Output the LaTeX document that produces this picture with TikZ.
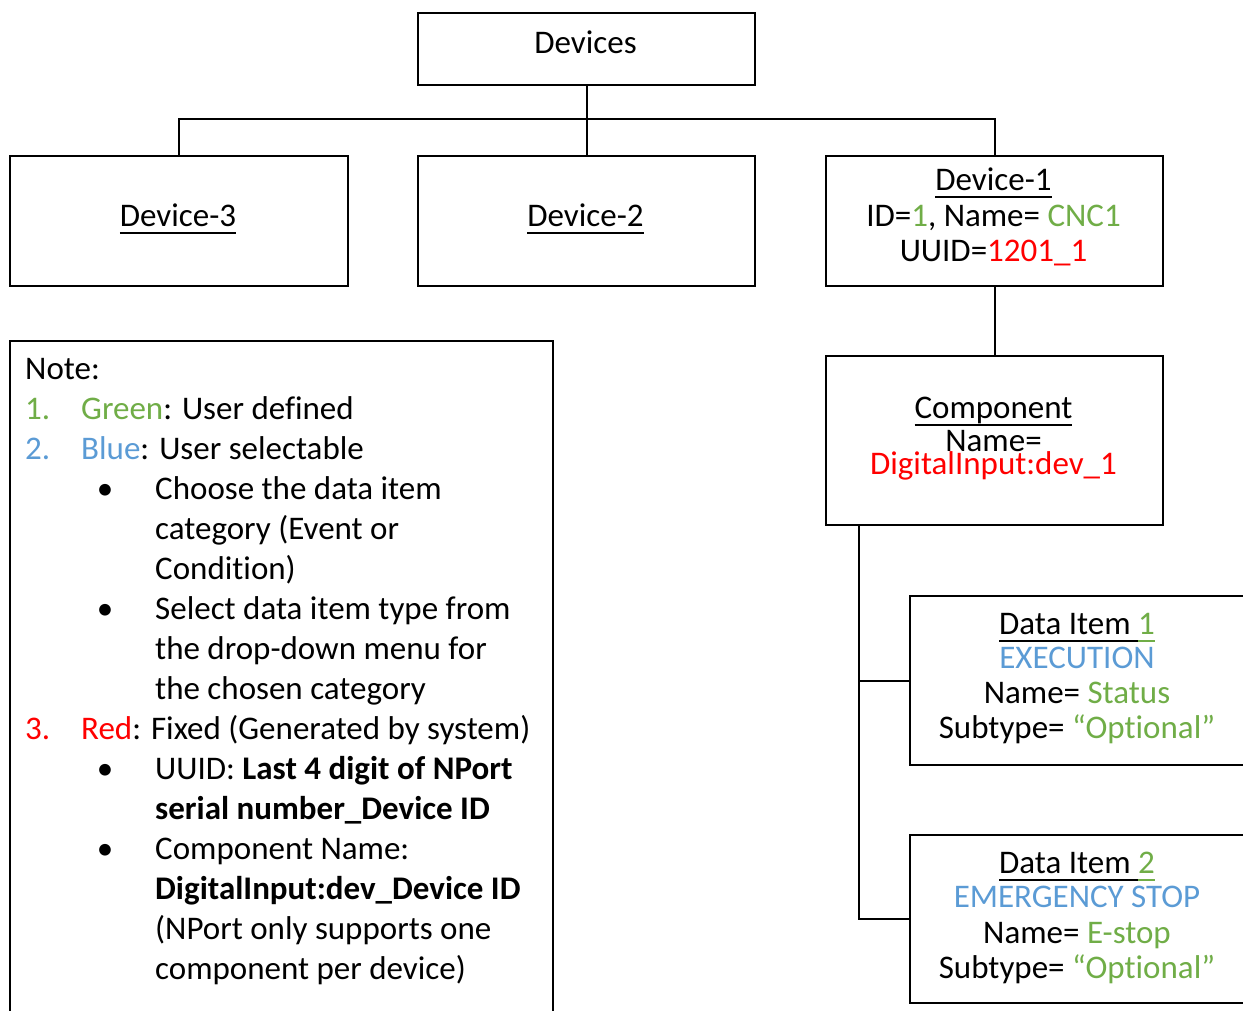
\documentclass[tikz,border=0pt]{standalone}
\usepackage{fontspec}
\setmainfont{Carlito}[RawFeature=-liga]
\definecolor{ugreen}{HTML}{70AD47}
\definecolor{ublue}{HTML}{5B9BD5}
\definecolor{ured}{HTML}{FF0000}
\newcommand\ulx[1]{\setbox0\hbox{#1}\rlap{\rule[-8pt]{\wd0}{1.6pt}}\box0}
\begin{document}
\begin{tikzpicture}[x=1pt,y=-1pt,
  box/.style={draw, line width=2pt, inner sep=0pt, anchor=north west},
  conn/.style={line width=2pt},
  txt/.style={anchor=base, inner sep=0pt, font=\fontsize{33}{38}\selectfont},
  ntxt/.style={anchor=base west, inner sep=0pt, font=\fontsize{33}{40}\selectfont},
  nbul/.style={anchor=base, inner sep=0pt, font=\fontsize{33}{40}\selectfont}]
\useasboundingbox (0,0) rectangle (1243,1010);
% boxes
\node[box, minimum width=337pt, minimum height=72pt] (devices) at (417,12) {};
\node[box, minimum width=338pt, minimum height=130pt] (dev3) at (9,155) {};
\node[box, minimum width=337pt, minimum height=130pt] (dev2) at (417,155) {};
\node[box, minimum width=337pt, minimum height=130pt] (dev1) at (825,155) {};
\node[box, minimum width=337pt, minimum height=169pt] (comp) at (825,355) {};
\node[box, minimum width=345pt, minimum height=169pt] (di1) at (909,595) {};
\node[box, minimum width=345pt, minimum height=168pt] (di2) at (909,834) {};
\node[box, minimum width=543pt, minimum height=690pt] (note) at (9,340) {};
% connectors
\coordinate (busy) at (0,119);
\draw[conn] (devices.south) -- (devices.south |- busy);
\draw[conn] (dev3.north) |- (dev1.north |- busy) -- (dev1.north);
\draw[conn] (dev2.north) -- (dev2.north |- busy);
\draw[conn] (dev1.south) -- (comp.north);
\coordinate (trunk) at ([xshift=34pt]comp.south west);
\draw[conn] (trunk) |- (di2.west);
\draw[conn] (trunk |- di1.west) -- (di1.west);
% box texts
\node[txt] (tdevices) at (585.5,53) {Devices};
\node[txt] (tdev3) at (178,226) {\ulx{Device-3}};
\node[txt] (tdev2) at (585.5,226) {\ulx{Device-2}};
\node[txt] (tdev1a) at (993.5,190) {\ulx{Device-1}};
\node[txt] (tdev1b) at (993.5,226) {ID=\textcolor{ugreen}{1}, Name= \textcolor{ugreen}{CNC1}};
\node[txt] (tdev1c) at (993.5,261) {UUID=\textcolor{ured}{1201\_1}};
\node[txt] (tcompa) at (993.5,418) {\ulx{Component}};
\node[txt] (tcompb) at (993.5,451) {Name=};
\node[txt, text=ured] (tcompc) at (993.5,474) {DigitalInput:dev\_1};
\node[txt] (tdi1a) at (1077,634) {\ulx{Data Item }\textcolor{ugreen}{\ulx{1}}};
\node[txt, text=ublue] (tdi1b) at (1077,668) {EXECUTION};
\node[txt] (tdi1c) at (1077,703) {Name= \textcolor{ugreen}{Status}};
\node[txt] (tdi1d) at (1077,738) {Subtype= \textcolor{ugreen}{“Optional”}};
\node[txt] (tdi2a) at (1077,873) {\ulx{Data Item }\textcolor{ugreen}{\ulx{2}}};
\node[txt, text=ublue] (tdi2b) at (1077,907) {EMERGENCY STOP};
\node[txt] (tdi2c) at (1077,943) {Name= \textcolor{ugreen}{E-stop}};
\node[txt] (tdi2d) at (1077,978) {Subtype= \textcolor{ugreen}{“Optional”}};
% note texts
\node[ntxt] (n0) at (25,379) {Note:};
\node[ntxt, text=ugreen] (n1n) at (25,419) {1.};
\node[ntxt] (n1) at (81,419) {\textcolor{ugreen}{Green}: User defined};
\node[ntxt, text=ublue] (n2n) at (25,459) {2.};
\node[ntxt] (n2) at (81,459) {\textcolor{ublue}{Blue}: User selectable};
\node[nbul] (b1) at (105,499) {•};
\node[ntxt] (n3) at (155,499) {Choose the data item};
\node[ntxt] (n4) at (155,539) {category (Event or};
\node[ntxt] (n5) at (155,579) {Condition)};
\node[nbul] (b2) at (105,619) {•};
\node[ntxt] (n6) at (155,619) {Select data item type from};
\node[ntxt] (n7) at (155,659) {the drop-down menu for};
\node[ntxt] (n8) at (155,699) {the chosen category};
\node[ntxt, text=ured] (n9n) at (25,739) {3.};
\node[ntxt] (n9) at (81,739) {\textcolor{ured}{Red}: Fixed (Generated by system)};
\node[nbul] (b3) at (105,779) {•};
\node[ntxt] (n10) at (155,779) {UUID: \textbf{Last 4 digit of NPort}};
\node[ntxt] (n11) at (155,819) {\textbf{serial number\_Device ID}};
\node[nbul] (b4) at (105,859) {•};
\node[ntxt] (n12) at (155,859) {Component Name:};
\node[ntxt] (n13) at (155,899) {\textbf{DigitalInput:dev\_Device ID}};
\node[ntxt] (n14) at (155,939) {(NPort only supports one};
\node[ntxt] (n15) at (155,979) {component per device)};
\end{tikzpicture}
\end{document}
